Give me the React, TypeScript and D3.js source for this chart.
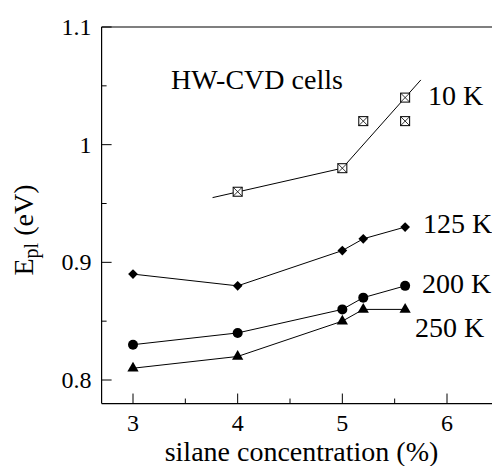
import React from "react";
import * as d3 from "d3";

const xs = [3, 4, 5, 5.2, 5.6];
const k125 = [0.89, 0.88, 0.91, 0.92, 0.93];
const k200 = [0.83, 0.84, 0.86, 0.87, 0.88];
const k250 = [0.81, 0.82, 0.85, 0.86, 0.86];
const k10x = [4, 5, 5.2, 5.6, 5.6];
const k10y = [0.96, 0.98, 1.02, 1.04, 1.02];
const fit1 = [[3.76, 0.955], [5, 0.98]];
const fit2 = [[5, 0.98], [5.75, 1.055]];
const xTicks = [3, 4, 5, 6];
const xMinor = [3.5, 4.5, 5.5];
const yTicks = [0.8, 0.9, 1.0, 1.1];
const yTickLabels = ["0.8", "0.9", "1", "1.1"];
const yMinor = [0.85, 0.95, 1.05];

const W = 492, H = 466;
const FONT = "Liberation Serif, DejaVu Serif, serif";

export default function App() {
  const x = d3.scaleLinear().domain([3, 6]).range([133, 447]);
  const y = d3.scaleLinear().domain([0.8, 1.1]).range([380, 27]);
  const left = x(2.7), bottom = y(0.78), top = y(1.1);
  const line = d3.line<[number, number]>().x(d => x(d[0])).y(d => y(d[1]));
  const pts = (ys: number[]) => xs.map((v, i) => [v, ys[i]] as [number, number]);

  return (
    <svg width={W} height={H} style={{ position: "absolute", left: 0, top: 0, background: "#fff", fontFamily: FONT }}>
      <rect width={W} height={H} fill="#fff" />
      {/* axes */}
      <line x1={left} x2={W} y1={top} y2={top} stroke="#000" strokeWidth={1.2} />
      <line x1={left} x2={W} y1={bottom} y2={bottom} stroke="#000" strokeWidth={1.2} />
      <line x1={left} x2={left} y1={top} y2={bottom} stroke="#000" strokeWidth={1.2} />
      {xTicks.map(t => (
        <g key={"xt" + t}>
          <line x1={x(t)} x2={x(t)} y1={bottom} y2={bottom - 10} stroke="#000" />
          <text x={x(t)} y={431} textAnchor="middle" style={{ fontFamily: FONT }} fontSize={24}>{t}</text>
        </g>
      ))}
      {xMinor.map(t => (
        <line key={"xm" + t} x1={x(t)} x2={x(t)} y1={bottom} y2={bottom - 5} stroke="#000" />
      ))}
      {yTicks.map((t, i) => (
        <g key={"yt" + t}>
          <line x1={left} x2={left + 10} y1={y(t)} y2={y(t)} stroke="#000" />
          <text x={left - 10} y={y(t) + 8} textAnchor="end" style={{ fontFamily: FONT }} fontSize={24}>{yTickLabels[i]}</text>
        </g>
      ))}
      {yMinor.map(t => (
        <line key={"ym" + t} x1={left} x2={left + 5} y1={y(t)} y2={y(t)} stroke="#000" />
      ))}
      {/* axis titles */}
      <text x={301.5} y={461} textAnchor="middle" style={{ fontFamily: FONT }} fontSize={28}>silane concentration (%)</text>
      <text transform={`translate(33, ${230}) rotate(-90)`} textAnchor="middle" style={{ fontFamily: FONT }} fontSize={28}>
        E<tspan fontSize={20} dy={5}>pl</tspan><tspan dy={-5}> (eV)</tspan>
      </text>
      {/* 10 K */}
      <path d={line(fit1 as [number, number][]) || ""} fill="none" stroke="#000" strokeWidth={1} />
      <path d={line(fit2 as [number, number][]) || ""} fill="none" stroke="#000" strokeWidth={1} />
      {k10x.map((v, i) => {
        const cx = x(v), cy = y(k10y[i]), s = 4.5;
        return (
          <g key={"k10" + i}>
            <rect x={cx - s} y={cy - s} width={2 * s} height={2 * s} fill="#fff" stroke="#000" strokeWidth={1} />
            <line x1={cx - s} y1={cy - s} x2={cx + s} y2={cy + s} stroke="#000" strokeWidth={0.8} />
            <line x1={cx - s} y1={cy + s} x2={cx + s} y2={cy - s} stroke="#000" strokeWidth={0.8} />
          </g>
        );
      })}
      {/* 125 K */}
      <path d={line(pts(k125)) || ""} fill="none" stroke="#000" strokeWidth={1} />
      {pts(k125).map((p, i) => (
        <path key={"d" + i} d={d3.symbol(d3.symbolDiamond2, 60)() || ""} transform={`translate(${x(p[0])},${y(p[1])})`} fill="#000" />
      ))}
      {/* 200 K */}
      <path d={line(pts(k200)) || ""} fill="none" stroke="#000" strokeWidth={1} />
      {pts(k200).map((p, i) => (
        <circle key={"c" + i} cx={x(p[0])} cy={y(p[1])} r={5} fill="#000" />
      ))}
      {/* 250 K */}
      <path d={line(pts(k250)) || ""} fill="none" stroke="#000" strokeWidth={1} />
      {pts(k250).map((p, i) => (
        <path key={"t" + i} d={d3.symbol(d3.symbolTriangle, 55)() || ""} transform={`translate(${x(p[0])},${y(p[1])})`} fill="#000" />
      ))}
      {/* labels */}
      <text x={171} y={89} style={{ fontFamily: FONT }} fontSize={28}>HW-CVD cells</text>
      <text x={428} y={105} style={{ fontFamily: FONT }} fontSize={28}>10 K</text>
      <text x={423} y={233} style={{ fontFamily: FONT }} fontSize={28}>125 K</text>
      <text x={422} y={293} style={{ fontFamily: FONT }} fontSize={28}>200 K</text>
      <text x={415} y={337} style={{ fontFamily: FONT }} fontSize={28}>250 K</text>
    </svg>
  );
}
